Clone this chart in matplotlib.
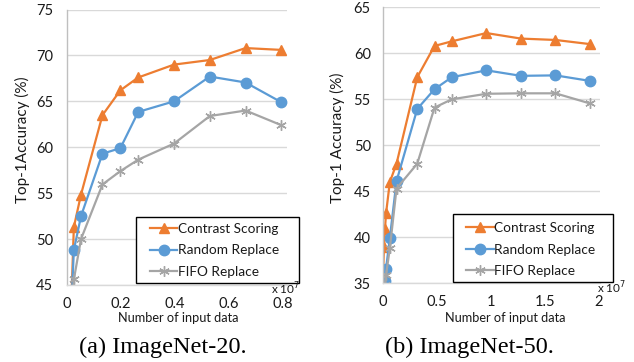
import matplotlib
matplotlib.use("Agg")
import matplotlib.pyplot as plt
from matplotlib.patches import Rectangle

# ---------------- data ----------------
# (a) ImageNet-20, x in units of 1e7
x_a = [0.01325, 0.0265, 0.053, 0.1325, 0.19875, 0.265, 0.3975, 0.53, 0.6625, 0.795]
contrast_a = [40.0, 51.3, 54.85, 63.5, 66.2, 67.6, 69.0, 69.5, 70.8, 70.6]
random_a = [40.0, 48.8, 52.5, 59.3, 59.9, 63.85, 65.0, 67.7, 67.05, 64.9]
fifo_a = [40.0, 45.6, 50.0, 55.95, 57.4, 58.65, 60.4, 63.4, 64.0, 62.4]

# (b) ImageNet-50, x in units of 1e7
x_b = [0.004, 0.012, 0.021, 0.031, 0.066, 0.128, 0.32, 0.48, 0.64, 0.96, 1.28, 1.6, 1.92]
contrast_b = [36.1, 38.9, 40.9, 42.6, 46.0, 48.0, 57.4, 60.8, 61.3, 62.2, 61.6, 61.45, 61.0]
random_b = [33.0, 34.0, 35.2, 36.6, 39.9, 46.1, 53.95, 56.1, 57.4, 58.15, 57.55, 57.6, 57.0]
fifo_b = [33.5, 34.3, 34.8, 35.9, 38.8, 45.3, 48.0, 54.1, 55.0, 55.6, 55.65, 55.65, 54.55]

labels = ["Contrast Scoring", "Random Replace", "FIFO Replace"]
xticks_a = [0, 0.2, 0.4, 0.6, 0.8]
xticklabels_a = ["0", "0.2", "0.4", "0.6", "0.8"]
xticks_b = [0, 0.5, 1, 1.5, 2]
xticklabels_b = ["0", "0.5", "1", "1.5", "2"]
yticks_a = [45, 50, 55, 60, 65, 70, 75]
yticks_b = [35, 40, 45, 50, 55, 60, 65]
ylabel_a = "Top-1Accuracy (%)"
ylabel_b = "Top-1 Accuracy (%)"
xlabel = "Number of input data"
captions = ["(a) ImageNet-20.", "(b) ImageNet-50."]

# ---------------- style ----------------
ORANGE = "#ED7D31"
BLUE = "#5B9BD5"
GRAY = "#A5A5A5"
GRID = "#D9D9D9"
TXT = "#1a1a1a"
FONT = ["Lato", "DejaVu Sans"]
plt.rcParams["font.family"] = FONT

W, H = 634, 362
fig = plt.figure(figsize=(W / 100, H / 100), dpi=100)


def fx(px):
    return px / W


def fy(py):
    return 1 - py / H


def px_box(l, r, t, b):
    return [l / W, 1 - b / H, (r - l) / W, (b - t) / H]


def style(ax, xticks, xtl, yticks, xlim, ylim, ypad):
    ax.set_xlim(*xlim)
    ax.set_ylim(*ylim)
    ax.set_xticks(xticks)
    ax.set_xticklabels(xtl)
    ax.set_yticks(yticks)
    ax.tick_params(axis="both", length=0, labelsize=10.5, colors=TXT)
    ax.tick_params(axis="x", pad=8.5)
    ax.tick_params(axis="y", pad=ypad)
    ax.grid(axis="y", color=GRID, linewidth=1.0)
    ax.set_axisbelow(True)
    for s in ["top", "right"]:
        ax.spines[s].set_visible(False)
    ax.spines["bottom"].set_color(GRID)
    ax.spines["left"].set_color("#BFBFBF")
    ax.spines["bottom"].set_linewidth(1.0)
    ax.spines["left"].set_linewidth(1.0)


def draw(ax, x, c, r, f):
    h1, = ax.plot(x, c, color=ORANGE, lw=1.6, marker="^", ms=7.5, label=labels[0])
    h2, = ax.plot(x, r, color=BLUE, lw=1.6, marker="o", ms=7.5, label=labels[1])
    h3, = ax.plot(x, f, color=GRAY, lw=1.6, marker=(6, 2, 0), ms=7.5,
                  mew=1.0, label=labels[2])
    return [h1, h2, h3]


axA = fig.add_axes(px_box(66.7, 287.3, 9.5, 285.0))
hA = draw(axA, x_a, contrast_a, random_a, fifo_a)
style(axA, xticks_a, xticklabels_a, yticks_a, (0, 0.817), (45, 75), 9.8)

axB = fig.add_axes(px_box(382.7, 599.7, 7.3, 283.3))
hB = draw(axB, x_b, contrast_b, random_b, fifo_b)
style(axB, xticks_b, xticklabels_b, yticks_b, (0, 2.01), (35, 65), 8.6)


def legend(ax, handles, box, hx, mid_y):
    l, t, r, b = box
    rect = Rectangle((fx(l), fy(b)), (r - l) / W, (b - t) / H,
                     transform=fig.transFigure, fill=True, facecolor="white",
                     edgecolor="black", linewidth=1.0, zorder=5, clip_on=False)
    ax.add_artist(rect)
    leg = ax.legend(handles=handles, loc="center left",
                    bbox_to_anchor=(fx(hx), fy(mid_y)), bbox_transform=fig.transFigure,
                    frameon=False, fontsize=9.8, handlelength=2.0,
                    handletextpad=0.05, labelspacing=0.68, borderpad=0,
                    borderaxespad=0)
    leg.set_zorder(6)
    for t_ in leg.get_texts():
        t_.set_color(TXT)
    return leg


legend(axA, hA, (135.7, 216.7, 299.0, 282.5), 150.0, 250.5)
legend(axB, hB, (453.0, 214.0, 613.0, 281.5), 466.3, 249.5)

# y labels
fig.text(fx(22.7), fy(140), ylabel_a, rotation=90, ha="center", va="center",
         fontsize=11, color=TXT)
fig.text(fx(337.7), fy(137.5), ylabel_b, rotation=90, ha="center", va="center",
         fontsize=11, color=TXT)

# x labels
fig.text(fx(178), fy(318), xlabel, ha="center", va="center", fontsize=9.2, color=TXT)
fig.text(fx(505), fy(318), xlabel, ha="center", va="center", fontsize=9.2, color=TXT)

# multipliers
fig.text(fx(286), fy(288.5), r"x 10$^7$", ha="center", va="center", fontsize=8.5, color=TXT)
fig.text(fx(612), fy(287.5), r"x 10$^7$", ha="center", va="center", fontsize=8.5, color=TXT)

# captions
fig.text(fx(162.5), fy(347), captions[0], ha="center", va="center", fontsize=17.5,
         family=["Liberation Serif", "DejaVu Serif"], color="black")
fig.text(fx(469), fy(347), captions[1], ha="center", va="center", fontsize=17.5,
         family=["Liberation Serif", "DejaVu Serif"], color="black")

fig.savefig("out.png", dpi=100)
